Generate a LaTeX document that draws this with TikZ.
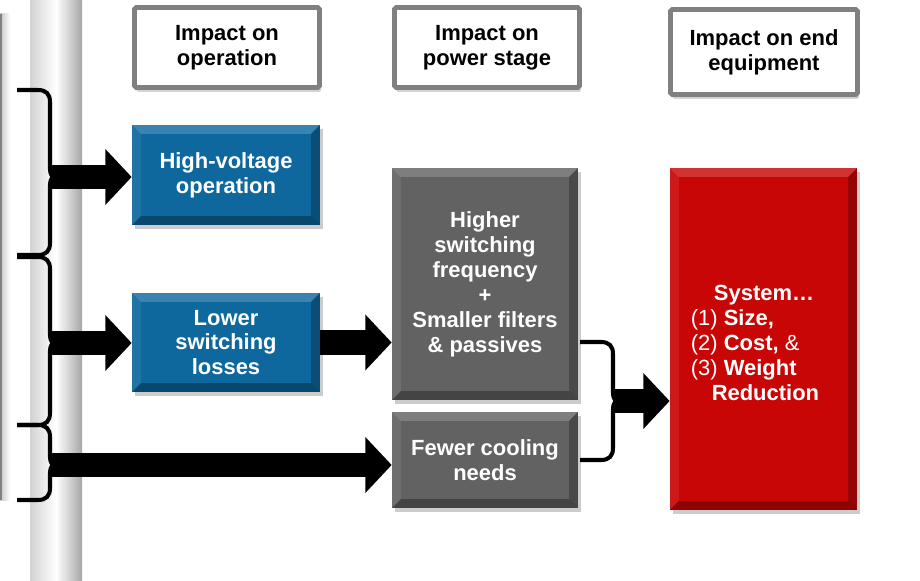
\documentclass[tikz,border=0pt]{standalone}
\usepackage{fontspec}
\setmainfont{Liberation Sans}
\usetikzlibrary{arrows.meta,shadows}

\definecolor{tiblue}{RGB}{14,104,158}
\definecolor{tigray}{RGB}{98,98,98}
\definecolor{tired}{RGB}{200,6,6}
\definecolor{hdrgray}{RGB}{128,128,128}

\tikzset{
  txt/.style={font=\fontsize{12.5pt}{14.2pt}\selectfont\bfseries, align=center, inner sep=0pt},
  hdr/.style={txt, draw=hdrgray, line width=2.8pt, fill=white, rounded corners=1pt,
    drop shadow={shadow xshift=1pt, shadow yshift=-2.5pt, opacity=.35}},
  bevel/.style={path picture={
      \coordinate (sw) at (path picture bounding box.south west);
      \coordinate (ne) at (path picture bounding box.north east);
      \fill[white,opacity=.18] (sw |- ne) -- (ne) -- ([shift={(-5pt,-5pt)}]ne) -- ([shift={(5pt,-5pt)}]sw |- ne) -- cycle;
      \fill[white,opacity=.08] (sw) -- (sw |- ne) -- ([shift={(5pt,-5pt)}]sw |- ne) -- ([shift={(5pt,5pt)}]sw) -- cycle;
      \fill[black,opacity=.25] (ne) -- (ne |- sw) -- ([shift={(-5pt,5pt)}]ne |- sw) -- ([shift={(-5pt,-5pt)}]ne) -- cycle;
      \fill[black,opacity=.3] (sw) -- (ne |- sw) -- ([shift={(-5pt,5pt)}]ne |- sw) -- ([shift={(5pt,5pt)}]sw) -- cycle;
  }},
  block/.style={txt, text=white, bevel,
    drop shadow={shadow xshift=1.5pt, shadow yshift=-2.5pt, opacity=.4}},
  brace/.style={line width=2.3pt, line join=round},
  bigarrow/.style={line width=14pt, -{Triangle[length=15pt,width=31pt]}},
}

\begin{document}
\begin{tikzpicture}[x=0.02cm,y=-0.02cm]
\useasboundingbox (0,0) rectangle (920,581);
% ---------- left edge and column ----------
\shade[left color=gray!45, right color=white] (0,14) rectangle (10,500);
\draw[gray, line width=1.2pt] (1,14) -- (1,500);
\shade[left color=gray!35, right color=gray!70, middle color=white] (30,0) rectangle (82,581);
% ---------- headers ----------
\node[hdr, minimum width=3.7cm, minimum height=1.6cm] (hdrop) at (227,47.5) {Impact on\\operation};
\node[hdr, minimum width=3.7cm, minimum height=1.6cm] (hdrps) at (487,47.5) {Impact on\\power stage};
\node[hdr, minimum width=3.74cm, minimum height=1.7cm] (hdreq) at (764,52) {Impact on end\\equipment};
% ---------- blocks ----------
\node[block, fill=tiblue, minimum width=3.76cm, minimum height=2cm] (hv) at (226,175) {High-voltage\\operation};
\node[block, fill=tiblue, minimum width=3.76cm, minimum height=1.98cm] (lsl) at (226,342.5) {Lower\\switching\\losses};
\node[block, fill=tigray, minimum width=3.72cm, minimum height=4.64cm] (hsf) at (485,284) {Higher\\switching\\frequency\\+\\Smaller filters\\\& passives};
\node[block, fill=tigray, minimum width=3.72cm, minimum height=1.92cm] (fcn) at (485,460) {Fewer cooling\\needs};
\node[block, fill=tired, minimum width=3.74cm, minimum height=6.84cm] (red) at (763.5,339) {};
\node[txt, text=white, align=left, font=\fontsize{12.5pt}{14.2pt}\selectfont] (redtxt) at (755,343)
  {\hspace*{1.05em}\textbf{System…}\\(1) \textbf{Size,}\\(2) \textbf{Cost,} \&\\(3) \textbf{Weight}\\\hspace*{0.95em}\textbf{Reduction}};
% ---------- braces ----------
\foreach \n/\x/\t/\m/\b in {t1/17/90/177/255, t2/17/257/343/425, t3/17/425/465/500, t4/580/342/401/460}{
  \draw[brace] (\x,\t) -- (\x+21,\t) .. controls (\x+29,\t) and (\x+33,\t+4) .. (\x+33,\t+12)
    -- (\x+33,\m-8) .. controls (\x+33,\m-3) and (\x+35,\m) .. (\x+38,\m)
    .. controls (\x+35,\m) and (\x+33,\m+3) .. (\x+33,\m+8)
    -- (\x+33,\b-12) .. controls (\x+33,\b-4) and (\x+29,\b) .. (\x+21,\b) -- (\x,\b);
  \coordinate (\n) at (\x+33,\m);
}
% ---------- arrows ----------
\draw[bigarrow] (t1) -- (t1 -| hv.west);
\draw[bigarrow] (t2) -- (t2 -| lsl.west);
\draw[bigarrow] (t3) -- (t3 -| fcn.west);
\draw[bigarrow] (lsl.east) -- (lsl.east -| hsf.west);
\draw[bigarrow] (t4) -- (t4 -| red.west);
\end{tikzpicture}
\end{document}
